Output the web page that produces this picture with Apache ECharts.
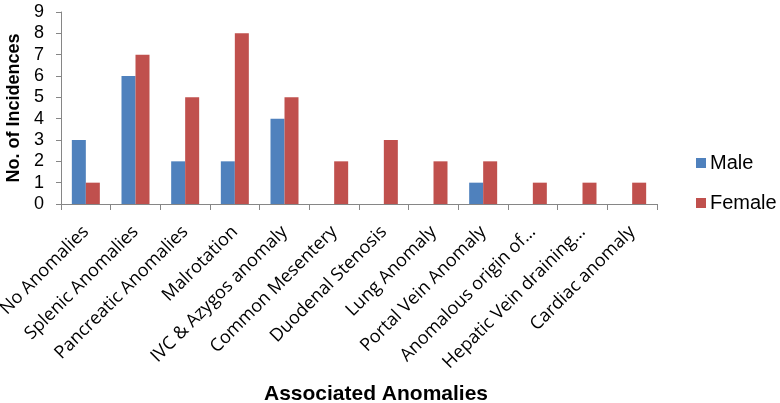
<!DOCTYPE html>
<html><head><meta charset="utf-8">
<script src="https://cdn.jsdelivr.net/npm/echarts@6/dist/echarts.min.js"></script>
<style>html,body{margin:0;padding:0;background:#fff}#c{width:780px;height:403px}</style>
</head><body><div id="c"></div>
<script>
var categories = ["No Anomalies","Splenic Anomalies","Pancreatic Anomalies","Malrotation","IVC & Azygos anomaly","Common Mesentery","Duodenal Stenosis","Lung Anomaly","Portal Vein Anomaly","Anomalous origin of…","Hepatic Vein draining…","Cardiac anomaly"];
var male = [3,6,2,2,4,0,0,0,1,0,0,0];
var female = [1,7,5,8,5,2,3,2,2,1,1,1];
var yTicks = [0,1,2,3,4,5,6,7,8,9];

var chart = echarts.init(document.getElementById('c'));
chart.setOption({
  animation:false,
  grid:{left:61,top:12,right:123,bottom:199,containLabel:false,outerBoundsMode:'none'},
  legend:{
    orient:'vertical', left:691, top:148, itemGap:20,
    itemWidth:10, itemHeight:10, icon:'rect',
    textStyle:{fontFamily:'Liberation Sans, Arial', fontSize:20, color:'#000', padding:[0,0,0,-1]},
    data:['Male','Female']
  },
  xAxis:{
    type:'category', data:categories,
    name:'Associated Anomalies', nameLocation:'middle', nameGap:180,
    nameTextStyle:{fontFamily:'Liberation Sans, Arial', fontWeight:'bold', fontSize:21, color:'#000', padding:[0,0,0,34]},
    axisLine:{lineStyle:{color:'#868686',width:1}},
    axisTick:{show:true, length:6, alignWithLabel:false, lineStyle:{color:'#868686'}},
    axisLabel:{rotate:45, interval:0, margin:25, fontFamily:'Open Sans', fontSize:18, color:'#000'}
  },
  yAxis:{
    type:'value', min:0, max:9, interval:1,
    name:'No. of Incidences', nameLocation:'middle', nameGap:37,
    nameTextStyle:{fontFamily:'Liberation Sans, Arial', fontWeight:'bold', fontSize:18, color:'#000'},
    axisLine:{show:true, lineStyle:{color:'#868686'}},
    axisTick:{show:true, length:5, lineStyle:{color:'#868686'}},
    splitLine:{show:false},
    axisLabel:{fontFamily:'Liberation Sans, Arial', fontSize:18, color:'#000', margin:17,
      showMinLabel:true, showMaxLabel:true, hideOverlap:false,
      formatter:function(v){return yTicks.indexOf(v)>=0?String(v):'';}}
  },
  series:[
    {name:'Male', type:'bar', data:male, barWidth:14, barGap:'0%', itemStyle:{color:'#4F81BD'}},
    {name:'Female', type:'bar', data:female, barWidth:14, barGap:'0%', itemStyle:{color:'#C0504D'}}
  ]
});
</script></body></html>
